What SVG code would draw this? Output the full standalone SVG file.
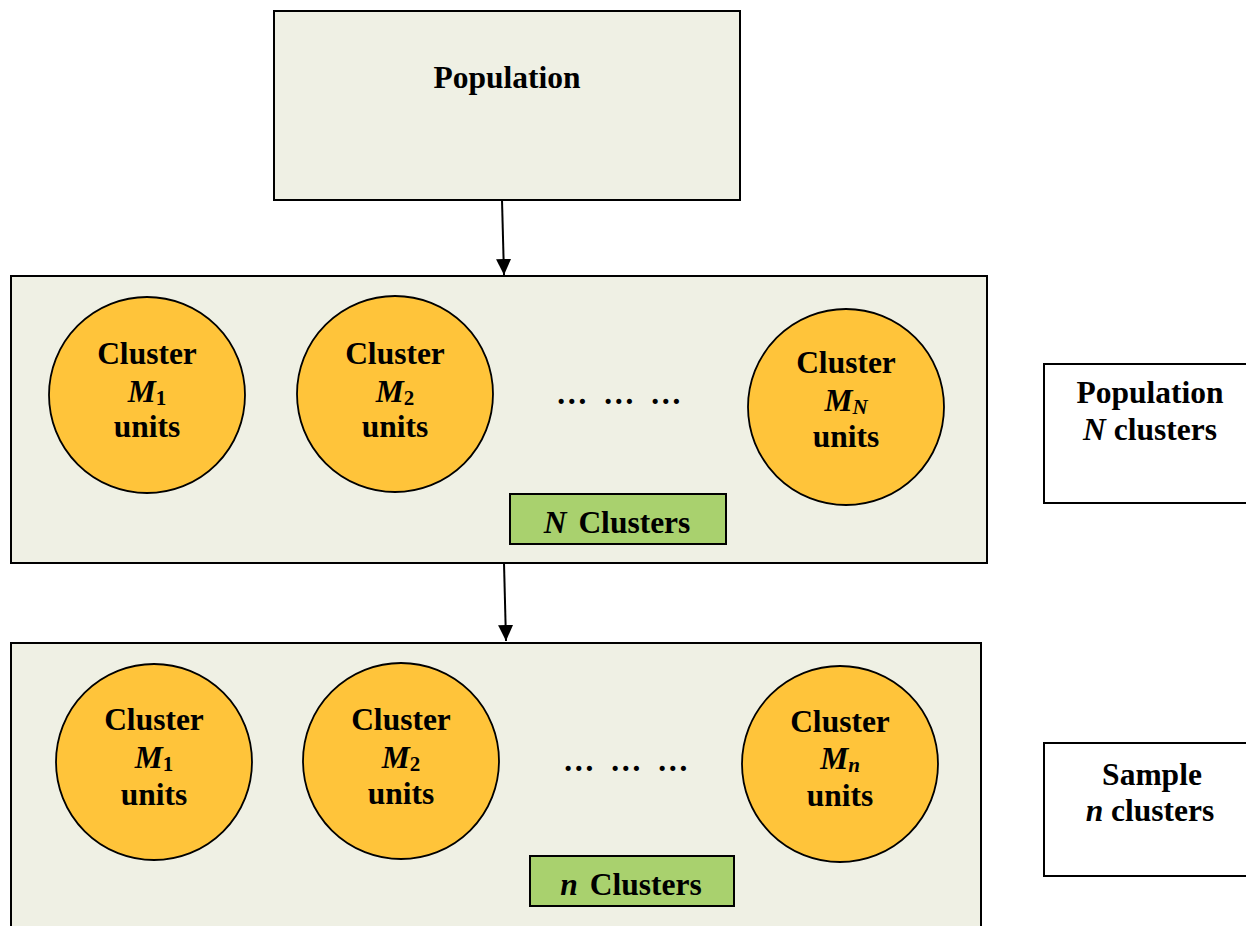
<svg xmlns="http://www.w3.org/2000/svg" width="1246" height="926" viewBox="0 0 1246 926">
<defs>
<style>
.box{fill:#EFF0E4;stroke:#000;stroke-width:2}
.wbox{fill:#fff;stroke:#000;stroke-width:2}
.circ{fill:#FFC43A;stroke:#000;stroke-width:1.8}
.gbox{fill:#A9D16E;stroke:#000;stroke-width:2}
.t{font-family:"Liberation Serif","Times New Roman",serif;font-weight:bold;font-size:31.5px;fill:#000;text-anchor:middle}
.i{font-style:italic}
.sub{font-size:21px;font-style:normal}
.subi{font-size:21px;font-style:italic}
.dots{font-family:"Liberation Serif","Times New Roman",serif;font-weight:bold;font-size:31.5px;fill:#000}
.conn{stroke:#000;stroke-width:2;fill:none}
</style>
<marker id="arr" viewBox="0 0 16 15" refX="16" refY="7.5" markerWidth="16" markerHeight="15" markerUnits="userSpaceOnUse" orient="auto">
<path d="M0,0 L16,7.5 L0,15 Z" fill="#000"/>
</marker>
</defs>
<rect width="1246" height="926" fill="#fff"/>
<g id="population">
<rect class="box" x="274" y="11" width="466" height="189"/>
<text class="t" x="507" y="88">Population</text>
</g>
<g id="population-clusters">
<rect class="box" x="11" y="276" width="976" height="287"/>
<g id="pc1">
<circle class="circ" cx="147" cy="395" r="98"/>
<text class="t" x="147" y="364">Cluster</text>
<text class="t" x="147" y="402"><tspan class="i">M</tspan><tspan class="sub" dy="3">1</tspan></text>
<text class="t" x="147" y="437">units</text>
</g>
<g id="pc2">
<circle class="circ" cx="395" cy="394" r="98"/>
<text class="t" x="395" y="364">Cluster</text>
<text class="t" x="395" y="402"><tspan class="i">M</tspan><tspan class="sub" dy="3">2</tspan></text>
<text class="t" x="395" y="437">units</text>
</g>
<text class="dots" x="556 589 603 636 650" y="404">… … …</text>
<g id="pcN">
<circle class="circ" cx="846" cy="407" r="98"/>
<text class="t" x="846" y="373">Cluster</text>
<text class="t" x="846" y="411"><tspan class="i">M</tspan><tspan class="subi" dy="3">N</tspan></text>
<text class="t" x="846" y="447">units</text>
</g>
<g id="N-clusters">
<rect class="gbox" x="510" y="494" width="216" height="50"/>
<text class="t" x="617" y="533"><tspan class="i">N</tspan><tspan dx="12">Clusters</tspan></text>
</g>
</g>
<g id="label-population">
<rect class="wbox" x="1044" y="364" width="210" height="139"/>
<text class="t" x="1150" y="403">Population</text>
<text class="t" x="1150" y="440"><tspan class="i">N</tspan> clusters</text>
</g>
<g id="sample-clusters">
<rect class="box" x="11" y="643" width="970" height="300"/>
<g id="sc1">
<circle class="circ" cx="154" cy="762" r="98"/>
<text class="t" x="154" y="730">Cluster</text>
<text class="t" x="154" y="768"><tspan class="i">M</tspan><tspan class="sub" dy="3">1</tspan></text>
<text class="t" x="154" y="805">units</text>
</g>
<g id="sc2">
<circle class="circ" cx="401" cy="761" r="98"/>
<text class="t" x="401" y="730">Cluster</text>
<text class="t" x="401" y="768"><tspan class="i">M</tspan><tspan class="sub" dy="3">2</tspan></text>
<text class="t" x="401" y="804">units</text>
</g>
<text class="dots" x="563 596 610 643 657" y="771">… … …</text>
<g id="scn">
<circle class="circ" cx="840" cy="764" r="98"/>
<text class="t" x="840" y="732">Cluster</text>
<text class="t" x="840" y="769"><tspan class="i">M</tspan><tspan class="subi" dy="3">n</tspan></text>
<text class="t" x="840" y="806">units</text>
</g>
<g id="n-clusters">
<rect class="gbox" x="530" y="856" width="204" height="50"/>
<text class="t" x="631" y="895"><tspan class="i">n</tspan><tspan dx="12">Clusters</tspan></text>
</g>
</g>
<g id="label-sample">
<rect class="wbox" x="1044" y="743" width="210" height="133"/>
<text class="t" x="1152" y="785">Sample</text>
<text class="t" x="1150" y="821"><tspan class="i">n</tspan> clusters</text>
</g>
<g id="connectors">
<line class="conn" x1="502" y1="200" x2="504" y2="275" marker-end="url(#arr)"/>
<line class="conn" x1="504" y1="563" x2="506" y2="641" marker-end="url(#arr)"/>
</g>
</svg>
